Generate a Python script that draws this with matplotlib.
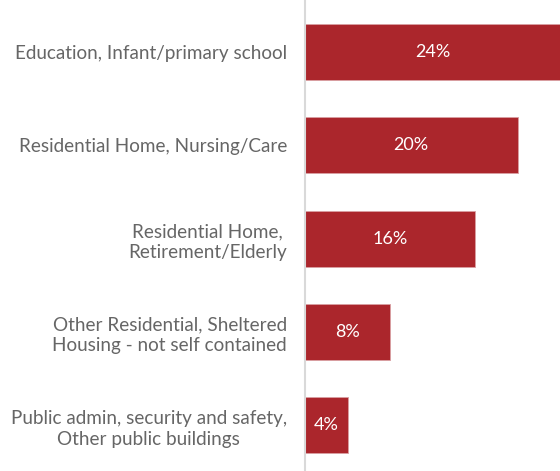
import matplotlib
matplotlib.use("Agg")
import matplotlib.pyplot as plt

categories = [
    "Education, Infant/primary school",
    "Residential Home, Nursing/Care",
    "Residential Home,\nRetirement/Elderly",
    "Other Residential, Sheltered\nHousing - not self contained",
    "Public admin, security and safety,\nOther public buildings",
]
values = [24, 20, 16, 8, 4]

bar_color = "#AB262C"
text_color = "#666666"

plt.rcParams["font.family"] = ["Lato", "DejaVu Sans"]

fig = plt.figure(figsize=(5.6, 4.71), dpi=100)
ax = fig.add_axes([305 / 560, 0, 1 - 305 / 560, 1])

pos = list(range(len(categories)))
ax.barh(pos, values, height=0.6, color=bar_color, edgecolor="#D9A0A3", linewidth=0.6)

for p, v in zip(pos, values):
    ax.text(v / 2, p, f"{v}%", ha="center", va="center", color="white", fontsize=13)

ax.set_xlim(0, 24)
ax.set_ylim(4.493, -0.558)
ax.set_yticks(pos)
ax.set_yticklabels(categories, fontsize=13.6, color=text_color, ha="right",
                   multialignment="center", linespacing=1.3)
ax.tick_params(axis="y", length=0, pad=13)
ax.set_xticks([])
for s in ["top", "right", "bottom"]:
    ax.spines[s].set_visible(False)
ax.spines["left"].set_color("#D9D9D9")
ax.spines["left"].set_linewidth(1.5)

fig.savefig("out.png", dpi=100)
